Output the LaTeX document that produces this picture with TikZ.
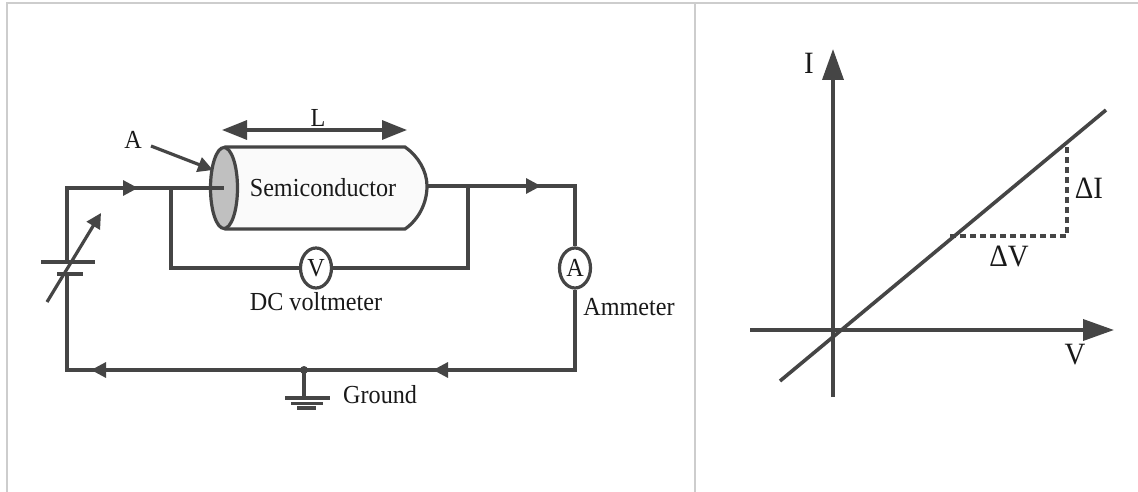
\documentclass[tikz,border=0pt]{standalone}
\usepackage{fontspec}
\setmainfont[FakeStretch=0.93]{Liberation Serif}
\usetikzlibrary{arrows.meta,shapes.geometric}
\definecolor{ink}{HTML}{454545}
\definecolor{frameg}{HTML}{CDCDCD}
\definecolor{facegray}{HTML}{C0C0C0}
\definecolor{bodyfill}{HTML}{FAFAFA}
\tikzset{
 x=1pt,y=-1pt,
 wire/.style={draw=ink,line width=3.2pt,line join=miter},
 flow/.style={draw=ink,line width=3.2pt,-{Triangle[length=15pt,width=15pt]}},
 bigarrow/.style={draw=ink,line width=3.6pt,-{Triangle[length=31pt,width=21pt]}},
 framer/.style={draw=frameg,line width=2.4pt},
 meter/.style={ellipse,draw=ink,line width=3.2pt,fill=white,inner sep=0pt,minimum width=31pt,minimum height=40pt},
 lbl/.style={inner sep=0pt,text=black!90,font=\fontsize{26}{28}\selectfont},
 glbl/.style={inner sep=0pt,text=black!90,font=\fontsize{31}{33}\selectfont},
}
\begin{document}
\begin{tikzpicture}
\useasboundingbox (0,0) rectangle (1138,492);
\fill[white] (0,0) rectangle (1138,492);
% frame
\coordinate (fa) at (7,492); \coordinate (fb) at (7,3); \coordinate (fc) at (1138,3);
\coordinate (fd) at (695,3); \coordinate (fe) at (695,492);
\draw[framer] (fa) -- (fb) -- (fc);
\draw[framer] (fd) -- (fe);
% semiconductor body
\coordinate (bt1) at (226,147); \coordinate (bt2) at (405,147);
\coordinate (bm) at (427,186);
\coordinate (bb2) at (405,229); \coordinate (bb1) at (226,229);
\draw[draw=ink,line width=3.2pt,fill=bodyfill] (bt1) -- (bt2) .. controls (418,156) and (427,171) .. (bm) .. controls (427,204) and (418,220) .. (bb2) -- (bb1) -- cycle;
\node[ellipse,draw=ink,line width=3.2pt,fill=facegray,inner sep=0pt,minimum width=27pt,minimum height=81pt] (face) at (224,188) {};
\node[lbl] (semi) at (323,188) {Semiconductor};
% coordinates of the circuit
\coordinate (tl) at (67,188);
\coordinate (bl) at (67,370);
\coordinate (br) at (575,370);
\coordinate (tr) at (575,186);
\coordinate (j1) at (171,188);
\coordinate (j1b) at (171,268);
\coordinate (j2) at (468,186);
\coordinate (j2b) at (468,268);
\coordinate (fc1) at (224,188);
\node[meter] (vm) at (316,268) {};
\node[lbl] at (vm) {V};
\node[meter] (am) at (575,268) {};
\node[lbl] at (am) {A};
% battery
\coordinate (p1l) at (41,262); \coordinate (p1r) at (95,262); \coordinate (p1m) at (67,262);
\coordinate (p2l) at (57,274); \coordinate (p2r) at (83,274); \coordinate (p2m) at (67,274);
\draw[wire] (p1m) -- (tl) -- (j1) -- (fc1);
\draw[wire] (p1l) -- (p1r);
\draw[wire] (p2l) -- (p2r);
\draw[wire] (p2m) -- (bl) -- (br) -- (am.south);
\draw[wire] (am.north) -- (tr) -- (bm);
\draw[wire] (j1) -- (j1b) -- (vm.west);
\draw[wire] (vm.east) -- (j2b) -- (j2);
% variable arrow
\coordinate (va) at (47,302); \coordinate (vb) at (101,213);
\draw[flow] (va) -- (vb);
% flow arrows
\coordinate (a1s) at (110,188); \coordinate (a1e) at (138,188);
\draw[flow] (a1s) -- (a1e);
\coordinate (a2s) at (500,186); \coordinate (a2e) at (541,186);
\draw[flow] (a2s) -- (a2e);
\coordinate (a3s) at (470,370); \coordinate (a3e) at (433,370);
\draw[flow] (a3s) -- (a3e);
\coordinate (a4s) at (130,370); \coordinate (a4e) at (91,370);
\draw[flow] (a4s) -- (a4e);
% ground
\coordinate (gt) at (304,370); \coordinate (gb) at (304,398);
\fill[ink] (gt) circle (4pt);
\draw[wire] (gt) -- (gb);
\coordinate (g1l) at (285,398); \coordinate (g1r) at (330,398);
\coordinate (g2l) at (291,403.5); \coordinate (g2r) at (323,403.5);
\coordinate (g3l) at (297,408); \coordinate (g3r) at (316,408);
\draw[wire] (g1l) -- (g1r);
\draw[wire] (g2l) -- (g2r);
\draw[wire] (g3l) -- (g3r);
% dimension arrows
\coordinate (ll) at (222,130); \coordinate (lr) at (407,130);
\draw[draw=ink,line width=3.2pt,{Triangle[length=25pt,width=19pt]}-{Triangle[length=25pt,width=19pt]}] (ll) -- (lr);
\coordinate (as) at (151,146); \coordinate (ae) at (213,170);
\draw[flow] (as) -- (ae);
% labels
\node[lbl] (lL) at (318,118) {L};
\node[lbl] (lA) at (133,140) {A};
\node[lbl] (lD) at (316,302) {DC voltmeter};
\node[lbl] (lAm) at (629,307) {Ammeter};
\node[lbl,anchor=west] (lG) at (343,395) {Ground};
% graph
\coordinate (ot) at (833,397); \coordinate (oh) at (833,49);
\coordinate (xl) at (750,330); \coordinate (xh) at (1114,330);
\draw[bigarrow] (ot) -- (oh);
\draw[bigarrow] (xl) -- (xh);
\coordinate (d1) at (780,381); \coordinate (d2) at (1106,110);
\draw[draw=ink,line width=3.6pt] (d1) -- (d2);
\coordinate (t1) at (950,236); \coordinate (t2) at (1067,236); \coordinate (t3) at (1067,146);
\draw[draw=ink,line width=3.2pt,dash pattern=on 6pt off 4pt] (t1) -- (t2) -- (t3);
\node[glbl] (lI) at (809,63) {I};
\node[glbl] (lV) at (1075,355) {V};
\node[glbl] (lDI) at (1089,188) {ΔI};
\node[glbl] (lDV) at (1009,257) {ΔV};
\end{tikzpicture}
\end{document}
